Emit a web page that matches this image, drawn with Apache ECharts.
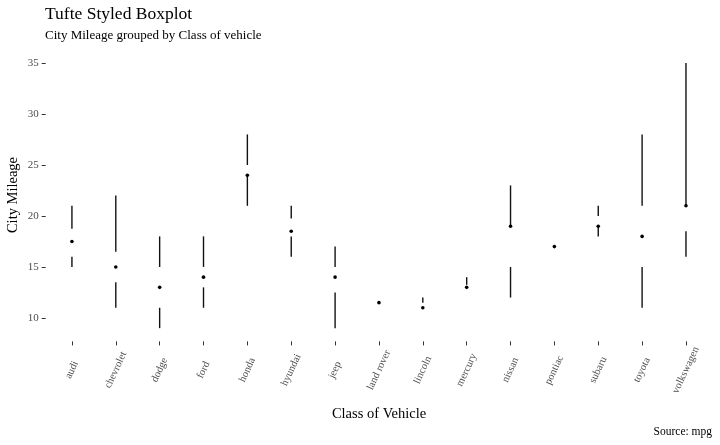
<!DOCTYPE html>
<html>
<head>
<meta charset="utf-8">
<script src="https://cdn.jsdelivr.net/npm/echarts@6/dist/echarts.min.js"></script>
<style>
html,body{margin:0;padding:0;background:#fff;}
#chart{width:720px;height:445px;}
</style>
</head>
<body>
<div id="chart"></div>
<script>
const categories = ['audi','chevrolet','dodge','ford','honda','hyundai','jeep','land rover','lincoln','mercury','nissan','pontiac','subaru','toyota','volkswagen'];
const minVals    = [15, 11,   9,  11, 21, 16,    9,    11,   11,   13,    12, 16, 18, 11, 16];
const q1Vals     = [16, 13.5, 11, 13, 24, 18,    12.5, 11,   11,   13,    15, 16, 19, 15, 18.5];
const medianVals = [17.5, 15, 13, 14, 24, 18.5,  14,   11.5, 11,   13,    19, 17, 19, 18, 21];
const q3Vals     = [18.75, 16.5, 15, 15, 25, 19.75, 15, 12,  11.5, 13.25, 19, 18, 20, 21, 21];
const maxVals    = [21, 22,   18, 18, 28, 21,    17,   12,   12,   14,    23, 18, 21, 28, 35];
const yTicks = [10, 15, 20, 25, 30, 35];

const SERIF = "'Liberation Serif', 'Times New Roman', serif";
const rows = categories.map((c, i) => [i, minVals[i], q1Vals[i], medianVals[i], q3Vals[i], maxVals[i]]);

const chart = echarts.init(document.getElementById('chart'), null, {renderer: 'canvas'});
chart.setOption({
  animation: false,
  backgroundColor: '#ffffff',
  grid: {left: 50, right: 12.1, top: 49.8, bottom: 103.6},
  xAxis: {
    type: 'category',
    data: categories,
    axisLine: {show: false},
    axisTick: {show: true, alignWithLabel: true, interval: 0, length: 4, lineStyle: {color: '#333', width: 1}},
    axisLabel: {
      interval: 0, rotate: 65, align: 'center', verticalAlign: 'middle', margin: 28.6,
      color: '#4d4d4d', fontFamily: SERIF, fontSize: 10.5
    },
    splitLine: {show: false}
  },
  yAxis: {
    type: 'value',
    min: 7.7, max: 36.3,
    offset: 4.3,
    axisLine: {show: false},
    axisTick: {show: true, customValues: yTicks, length: 4, lineStyle: {color: '#333', width: 1}},
    axisLabel: {customValues: yTicks, color: '#4d4d4d', fontFamily: SERIF, fontSize: 11, margin: 7},
    splitLine: {show: false}
  },
  series: [{
    type: 'custom',
    data: rows,
    encode: {x: 0, y: [1, 2, 3, 4, 5]},
    renderItem: function (params, api) {
      const xi = api.value(0);
      const a = api.coord([xi, api.value(1)]);
      const b = api.coord([xi, api.value(2)]);
      const m = api.coord([xi, api.value(3)]);
      const c = api.coord([xi, api.value(4)]);
      const d = api.coord([xi, api.value(5)]);
      const ls = {stroke: '#111', lineWidth: 1.4};
      return {
        type: 'group',
        children: [
          {type: 'line', shape: {x1: a[0], y1: a[1], x2: b[0], y2: b[1]}, style: ls},
          {type: 'line', shape: {x1: c[0], y1: c[1], x2: d[0], y2: d[1]}, style: ls},
          {type: 'circle', shape: {cx: m[0], cy: m[1], r: 1.8}, style: {fill: '#000'}}
        ]
      };
    }
  }],
  graphic: [
    {type: 'text', x: 45, y: 14, style: {text: 'Tufte Styled Boxplot', fontFamily: SERIF, fontSize: 17.5, fill: '#000', align: 'left', verticalAlign: 'middle'}},
    {type: 'text', x: 45, y: 35.5, style: {text: 'City Mileage grouped by Class of vehicle', fontFamily: SERIF, fontSize: 13, fill: '#000', align: 'left', verticalAlign: 'middle'}},
    {type: 'text', x: 13, y: 195, rotation: Math.PI / 2, style: {text: 'City Mileage', fontFamily: SERIF, fontSize: 14.5, fill: '#000', align: 'center', verticalAlign: 'middle'}},
    {type: 'text', x: 379, y: 414, style: {text: 'Class of Vehicle', fontFamily: SERIF, fontSize: 14.5, fill: '#000', align: 'center', verticalAlign: 'middle'}},
    {type: 'text', x: 712, y: 432, style: {text: 'Source: mpg', fontFamily: SERIF, fontSize: 11.5, fill: '#000', align: 'right', verticalAlign: 'middle'}}
  ]
});
</script>
</body>
</html>
